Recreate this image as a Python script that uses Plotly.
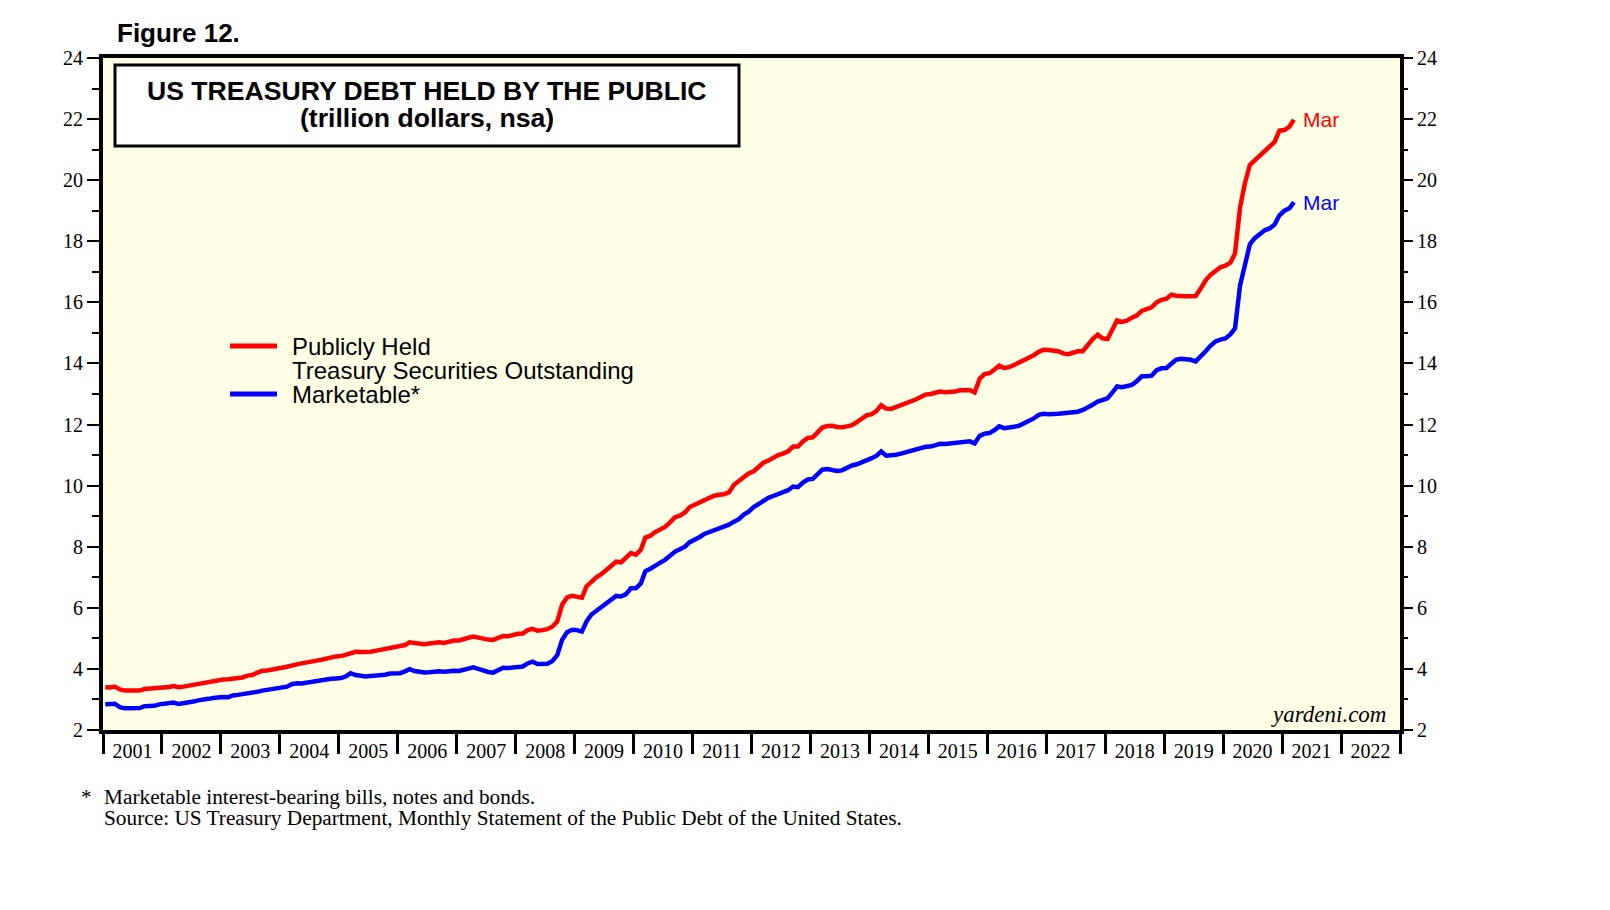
import pandas as pd
import plotly.graph_objects as go

# ---------------- data (trillion dollars, monthly Jan 2001 - Mar 2021) ----------------
publicly_held = [
    3.40, 3.39, 3.42, 3.33, 3.29, 3.28, 3.29, 3.29, 3.34, 3.35, 3.35, 3.39,  # 2001
    3.40, 3.41, 3.44, 3.40, 3.42, 3.45, 3.47, 3.50, 3.55, 3.57, 3.60, 3.64,  # 2002
    3.65, 3.66, 3.68, 3.67, 3.72, 3.78, 3.80, 3.88, 3.94, 3.95, 3.99, 4.02,  # 2003
    4.04, 4.07, 4.12, 4.15, 4.18, 4.20, 4.24, 4.27, 4.30, 4.34, 4.37, 4.41,  # 2004
    4.42, 4.47, 4.54, 4.56, 4.55, 4.54, 4.56, 4.59, 4.62, 4.65, 4.70, 4.72,  # 2005
    4.73, 4.78, 4.87, 4.84, 4.82, 4.81, 4.83, 4.86, 4.87, 4.85, 4.89, 4.93,  # 2006
    4.93, 4.96, 5.02, 5.06, 5.02, 4.98, 4.96, 4.95, 5.03, 5.08, 5.07, 5.12,  # 2007
    5.15, 5.16, 5.27, 5.31, 5.25, 5.27, 5.30, 5.38, 5.55, 6.10, 6.34, 6.39,  # 2008
    6.36, 6.33, 6.70, 6.88, 7.00, 7.10, 7.22, 7.38, 7.51, 7.49, 7.62, 7.79,  # 2009
    7.74, 7.90, 8.30, 8.36, 8.48, 8.56, 8.65, 8.80, 8.97, 9.02, 9.12, 9.30,  # 2010
    9.37, 9.45, 9.52, 9.60, 9.67, 9.70, 9.72, 9.78, 10.03, 10.15, 10.30, 10.40,  # 2011
    10.47, 10.60, 10.75, 10.82, 10.92, 11.00, 11.05, 11.12, 11.28, 11.28, 11.45, 11.56,  # 2012
    11.58, 11.75, 11.90, 11.95, 11.96, 11.92, 11.91, 11.94, 11.98, 12.08, 12.21, 12.30,  # 2013
    12.34, 12.45, 12.63, 12.52, 12.51, 12.57, 12.62, 12.70, 12.76, 12.82, 12.90, 12.98,  # 2014
    13.00, 13.05, 13.08, 13.06, 13.06, 13.08, 13.12, 13.14, 13.13, 13.05, 13.50, 13.65,  # 2015
    13.68, 13.80, 13.93, 13.85, 13.88, 13.95, 14.02, 14.10, 14.17, 14.27, 14.38, 14.45,  # 2016
    14.44, 14.43, 14.40, 14.33, 14.30, 14.35, 14.40, 14.40, 14.62, 14.80, 14.94, 14.82,  # 2017
    14.80, 15.15, 15.41, 15.36, 15.40, 15.50, 15.57, 15.72, 15.80, 15.84, 16.00, 16.08,  # 2018
    16.12, 16.25, 16.22, 16.20, 16.20, 16.20, 16.21, 16.45, 16.72, 16.90, 17.05, 17.15,  # 2019
    17.20, 17.30, 17.60, 19.10, 19.90, 20.50, 20.65, 20.80, 20.97, 21.08, 21.25, 21.62,  # 2020
    21.64, 21.75, 21.98,  # 2021
]

marketable = [
    2.84, 2.85, 2.86, 2.75, 2.71, 2.71, 2.71, 2.72, 2.78, 2.79, 2.79, 2.84,  # 2001
    2.85, 2.86, 2.90, 2.85, 2.87, 2.90, 2.93, 2.97, 3.01, 3.02, 3.05, 3.08,  # 2002
    3.08, 3.07, 3.13, 3.15, 3.17, 3.20, 3.22, 3.25, 3.29, 3.32, 3.35, 3.38,  # 2003
    3.40, 3.42, 3.50, 3.53, 3.52, 3.55, 3.58, 3.61, 3.63, 3.66, 3.68, 3.69,  # 2004
    3.70, 3.76, 3.86, 3.80, 3.76, 3.75, 3.77, 3.78, 3.79, 3.81, 3.85, 3.86,  # 2005
    3.86, 3.92, 3.99, 3.93, 3.89, 3.88, 3.89, 3.92, 3.92, 3.91, 3.93, 3.94,  # 2006
    3.93, 3.96, 4.02, 4.05, 4.00, 3.94, 3.90, 3.88, 3.96, 4.04, 4.03, 4.05,  # 2007
    4.07, 4.08, 4.18, 4.24, 4.16, 4.16, 4.17, 4.25, 4.45, 4.95, 5.20, 5.28,  # 2008
    5.27, 5.22, 5.55, 5.78, 5.90, 6.00, 6.12, 6.25, 6.39, 6.37, 6.45, 6.64,  # 2009
    6.64, 6.80, 7.20, 7.28, 7.40, 7.48, 7.57, 7.72, 7.84, 7.92, 8.00, 8.15,  # 2010
    8.22, 8.32, 8.42, 8.48, 8.54, 8.58, 8.64, 8.72, 8.82, 8.90, 9.05, 9.15,  # 2011
    9.30, 9.40, 9.52, 9.60, 9.66, 9.72, 9.76, 9.85, 9.97, 9.95, 10.10, 10.20,  # 2012
    10.22, 10.38, 10.52, 10.54, 10.52, 10.48, 10.50, 10.60, 10.66, 10.70, 10.76, 10.84,  # 2013
    10.90, 10.98, 11.12, 10.98, 10.98, 11.01, 11.05, 11.10, 11.13, 11.17, 11.22, 11.27,  # 2014
    11.28, 11.32, 11.37, 11.36, 11.38, 11.40, 11.44, 11.45, 11.45, 11.38, 11.63, 11.70,  # 2015
    11.72, 11.82, 11.94, 11.88, 11.89, 11.93, 11.96, 12.03, 12.10, 12.20, 12.32, 12.35,  # 2016
    12.34, 12.33, 12.35, 12.37, 12.38, 12.40, 12.42, 12.48, 12.55, 12.65, 12.75, 12.80,  # 2017
    12.86, 13.05, 13.25, 13.22, 13.25, 13.30, 13.42, 13.58, 13.58, 13.60, 13.78, 13.84,  # 2018
    13.85, 13.98, 14.12, 14.15, 14.15, 14.12, 14.07, 14.22, 14.40, 14.58, 14.72, 14.78,  # 2019
    14.82, 14.95, 15.15, 16.55, 17.30, 17.90, 18.10, 18.22, 18.36, 18.42, 18.55, 18.85,  # 2020
    19.00, 19.08, 19.28,  # 2021
]

months = pd.date_range("2001-01-01", periods=len(publicly_held), freq="MS") + pd.Timedelta(days=14)

series_names = ["Publicly Held", "Marketable*"]
legend_lines = ["Publicly Held", "Treasury Securities Outstanding", "Marketable*"]
end_label = "Mar"
chart_title = "US TREASURY DEBT HELD BY THE PUBLIC"
chart_subtitle = "(trillion dollars, nsa)"
figure_label = "Figure 12."
footnote = "Marketable interest-bearing bills, notes and bonds."
source = "Source: US Treasury Department, Monthly Statement of the Public Debt of the United States."
credit = "yardeni.com"
y_range = [2, 24]
x_range = ["2001-01-01", "2023-01-01"]

# ---------------- layout geometry ----------------
W, H = 1610, 910
L, R, T, B = 103, 1400, 58, 730  # plot area in pixels


def px(x, y):
    return (x - L) / (R - L), (B - y) / (B - T)


RED = "#FF0000"
BLUE = "#0000FF"
BG = "#FFFFE6"
SANS = "Liberation Sans, Arial, sans-serif"
SERIF = "Liberation Serif, Times New Roman, serif"

fig = go.Figure()
fig.add_trace(go.Scatter(x=months, y=publicly_held, mode="lines", name=series_names[0],
                         line=dict(color=RED, width=4.5), showlegend=False))
fig.add_trace(go.Scatter(x=months, y=marketable, mode="lines", name=series_names[1],
                         line=dict(color=BLUE, width=4.5), showlegend=False, yaxis="y2"))

tickfont = dict(family=SERIF, size=20, color="black")

fig.update_layout(
    width=W, height=H,
    margin=dict(l=L, r=W - R, t=T, b=H - B, pad=0),
    paper_bgcolor="white",
    plot_bgcolor=BG,
    showlegend=False,
    xaxis=dict(
        type="date", range=x_range, dtick="M12", tick0="2001-01-01", tickformat="%Y",
        ticklabelmode="period", ticks="outside", ticklen=20, tickwidth=3, tickcolor="black",
        showline=True, linewidth=4, linecolor="black", mirror=True,
        showgrid=False, zeroline=False, tickfont=tickfont, ticklabelstandoff=-20,
    ),
    yaxis=dict(
        range=y_range, dtick=2, ticks="outside", ticklen=12, tickwidth=1.5, tickcolor="black",
        minor=dict(dtick=1, ticks="outside", ticklen=7, tickwidth=1.5, tickcolor="black"),
        showline=True, linewidth=4, linecolor="black", mirror=True,
        showgrid=False, zeroline=False, tickfont=tickfont,
    ),
    yaxis2=dict(
        range=y_range, dtick=2, overlaying="y", side="right", anchor="x", matches="y",
        ticks="outside", ticklen=12, tickwidth=1.5, tickcolor="black",
        minor=dict(dtick=1, ticks="outside", ticklen=7, tickwidth=1.5, tickcolor="black"),
        showline=False, showgrid=False, zeroline=False, tickfont=tickfont,
    ),
)

shapes = []
annotations = []

# title box
x0, y0 = px(115, 65)
x1, y1 = px(739, 146)
shapes.append(dict(type="rect", xref="paper", yref="paper", x0=x0, y0=y0, x1=x1, y1=y1,
                   line=dict(color="black", width=3), fillcolor="white", layer="above"))
cx, cy = px(427, 91)
annotations.append(dict(xref="paper", yref="paper", x=cx, y=cy, text="<b>%s</b>" % chart_title,
                        showarrow=False, xanchor="center", yanchor="middle",
                        font=dict(family=SANS, size=26.6, color="black")))
cx, cy = px(427, 118)
annotations.append(dict(xref="paper", yref="paper", x=cx, y=cy, text="<b>%s</b>" % chart_subtitle,
                        showarrow=False, xanchor="center", yanchor="middle",
                        font=dict(family=SANS, size=26.6, color="black")))

# figure label
fx, fy = px(115, 33)
annotations.append(dict(xref="paper", yref="paper", x=fx, y=fy, text="<b>%s</b>" % figure_label,
                        showarrow=False, xanchor="left", yanchor="middle",
                        font=dict(family=SANS, size=26, color="black")))

# legend
for ypix, color in [(346, RED), (394, BLUE)]:
    lx0, ly = px(230, ypix)
    lx1, _ = px(277, ypix)
    shapes.append(dict(type="line", xref="paper", yref="paper", x0=lx0, x1=lx1, y0=ly, y1=ly,
                       line=dict(color=color, width=5)))
for text, ypix in zip(legend_lines, [346, 370, 394]):
    tx, ty = px(290, ypix)
    annotations.append(dict(xref="paper", yref="paper", x=tx, y=ty, text=text, showarrow=False,
                            xanchor="left", yanchor="middle",
                            font=dict(family=SANS, size=24, color="black")))

# end labels
annotations.append(dict(x=months[-1], y=publicly_held[-1], xref="x", yref="y", text=end_label,
                        showarrow=False, xanchor="left", yanchor="middle", xshift=7, yshift=0,
                        font=dict(family=SANS, size=21, color=RED)))
annotations.append(dict(x=months[-1], y=marketable[-1], xref="x", yref="y2", text=end_label,
                        showarrow=False, xanchor="left", yanchor="middle", xshift=7, yshift=0,
                        font=dict(family=SANS, size=21, color=BLUE)))

# credit
cx, cy = px(1388, 714)
annotations.append(dict(xref="paper", yref="paper", x=cx, y=cy, text="<i>%s</i>" % credit,
                        showarrow=False, xanchor="right", yanchor="middle",
                        font=dict(family=SERIF, size=23, color="black")))

# footnotes
sx, sy = px(79, 797)
annotations.append(dict(xref="paper", yref="paper", x=sx, y=sy, text="*", showarrow=False,
                        xanchor="left", yanchor="middle", font=dict(family=SERIF, size=21, color="black")))
for text, ypix in [(footnote, 797), (source, 818)]:
    tx, ty = px(102, ypix)
    annotations.append(dict(xref="paper", yref="paper", x=tx, y=ty, text=text, showarrow=False,
                            xanchor="left", yanchor="middle",
                            font=dict(family=SERIF, size=21.3, color="black")))

fig.update_layout(shapes=shapes, annotations=annotations)

fig.write_html("out.html", config={"displayModeBar": False},
               post_script="document.body.style.margin='0';document.body.style.overflow='hidden';")
